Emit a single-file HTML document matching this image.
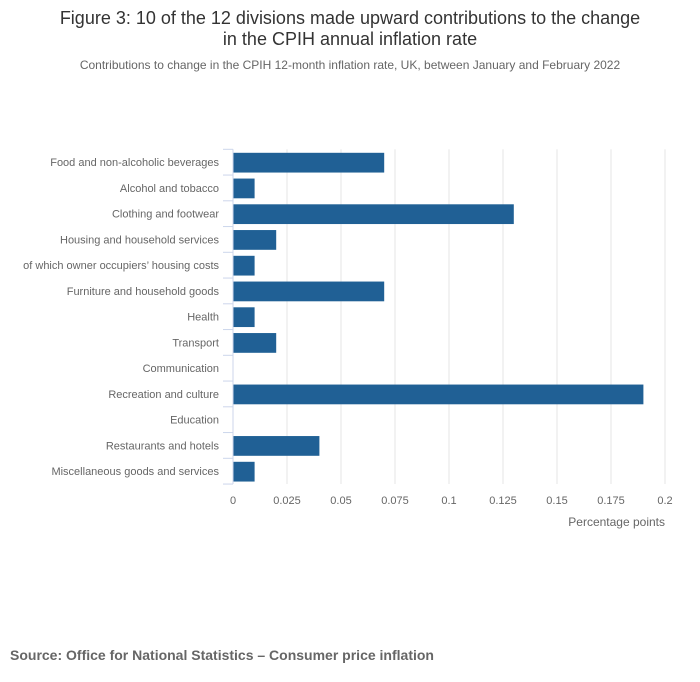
<!DOCTYPE html>
<html><head><meta charset="utf-8"><style>
body{margin:0;background:#fff;font-family:"Liberation Sans",sans-serif;}
</style></head><body>
<svg width="700" height="682" xmlns="http://www.w3.org/2000/svg" style="display:block">
<text x="350" y="24" text-anchor="middle" font-size="18" fill="#333">Figure 3: 10 of the 12 divisions made upward contributions to the change</text>
<text x="350" y="45" text-anchor="middle" font-size="18" fill="#333">in the CPIH annual inflation rate</text>
<text x="350" y="69" text-anchor="middle" font-size="12" fill="#666">Contributions to change in the CPIH 12-month inflation rate, UK, between January and February 2022</text>
<g id="grid"></g><g id="bars"></g><g id="axes"></g>
<text x="665" y="526" text-anchor="end" font-size="12" fill="#666">Percentage points</text>
<text x="10" y="660" font-size="14" font-weight="bold" fill="#666">Source: Office for National Statistics – Consumer price inflation</text>
</svg>
<script>
const categories=["Food and non-alcoholic beverages","Alcohol and tobacco","Clothing and footwear","Housing and household services","of which owner occupiers’ housing costs","Furniture and household goods","Health","Transport","Communication","Recreation and culture","Education","Restaurants and hotels","Miscellaneous goods and services"];
const values=[0.07,0.01,0.13,0.02,0.01,0.07,0.01,0.02,0,0.19,0,0.04,0.01];
const ticks=[0,0.025,0.05,0.075,0.1,0.125,0.15,0.175,0.2];
const tickLabels=["0","0.025","0.05","0.075","0.1","0.125","0.15","0.175","0.2"];
const NS="http://www.w3.org/2000/svg";
const x0=233,x1=665,yTop=149.3,band=25.75;
const xs=v=>x0+(v-0)/(0.2-0)*(x1-x0);
const yb=i=>yTop+i*band;
const yBottom=yb(categories.length);
function mk(tag,at,parent){const e=document.createElementNS(NS,tag);for(const k in at)e.setAttribute(k,at[k]);document.getElementById(parent).appendChild(e);return e;}
ticks.forEach((t,i)=>{
 if(i>0){const g=mk('line',{x1:xs(t),x2:xs(t),y1:yTop,y2:yBottom,stroke:'#e6e6e6'},'grid');
 
 }
 const l=mk('text',{x:xs(t),y:504,'text-anchor':'middle','font-size':11,fill:'#666'},'axes');
 l.textContent=tickLabels[i];
 
 
});
const ax=mk('line',{x1:x0,x2:x0,y1:yTop,y2:yBottom,stroke:'#ccd6eb'},'axes');


categories.forEach((c,i)=>{
 const tk=mk('line',{x1:x0-10,x2:x0,y1:yb(i),y2:yb(i),stroke:'#ccd6eb'},'axes');
 
 
 const l=mk('text',{x:219,y:yb(i)+band/2+4,'text-anchor':'end','font-size':11,fill:'#666'},'axes');
 l.textContent=c;
 
 
 const w=xs(values[i])-x0;
 if(w>0){const b=mk('rect',{x:x0,y:yb(i)+3.5,width:w,height:band-6,fill:'#206095'},'bars');
 
 }
});
const lt=mk('line',{x1:x0-10,x2:x0,y1:yBottom,y2:yBottom,stroke:'#ccd6eb'},'axes');


</script>
</body></html>
